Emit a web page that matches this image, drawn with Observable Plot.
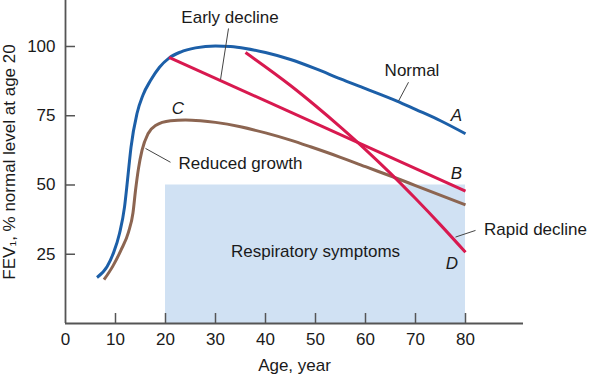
<!DOCTYPE html>
<html>
<head>
<meta charset="utf-8">
<script src="https://cdn.jsdelivr.net/npm/d3@7"></script>
<script src="https://cdn.jsdelivr.net/npm/@observablehq/plot@0.6"></script>
<style>
  html, body { margin: 0; padding: 0; background: #fff; }
  #chart svg { display: block; }
</style>
</head>
<body>
<div id="chart"></div>
<script>
// ---- data ----
const normalAge = [6.3, 8.3, 9.6, 10.8, 11.8, 12.3, 12.7, 13.1, 14.3, 15.5, 17, 18.8, 20.7, 23, 26, 30, 33, 36, 40, 45, 50, 55, 60, 66.3, 70, 75, 80];
const normalFev = [16.6, 20.5, 25.5, 32.5, 42, 50, 57, 63.6, 75.8, 82.5, 87.7, 92.5, 95.8, 98, 99.5, 100.2, 100, 99.3, 97.8, 95.3, 92, 88.3, 84.8, 80.3, 77.3, 73.2, 68.5];

const reducedAge = [7.7, 9.5, 11.1, 12.6, 13.5, 14, 14.6, 15.3, 16.5, 18, 21, 24, 27, 30, 35, 40, 45, 49, 55, 60, 65.7, 70, 80];
const reducedFev = [15.8, 20.8, 26.5, 33, 40, 48, 56, 62.5, 68.5, 71.5, 73.2, 73.5, 73.2, 72.6, 71, 68.8, 66.2, 63.8, 60, 56.6, 52.8, 49.8, 42.8];

const earlyAge = [20.7, 80];
const earlyFev = [96.1, 47.8];

const rapidAge = [36, 45, 50, 55, 60, 65, 70, 75, 80];
const rapidFev = [97.8, 85.9, 78.6, 70.9, 62.8, 54.2, 45.1, 35.6, 25.7];

const symptomAges = [20, 80];
const symptomThreshold = 50;

const xTicks = [0, 10, 20, 30, 40, 50, 60, 70, 80];
const yTicks = [25, 50, 75, 100];

const labelText = ["Early decline", "Normal", "Reduced growth", "Rapid decline", "Respiratory symptoms"];
const labelAge = [32.9, 69.3, 35, 94, 50];
const labelFev = [110.5, 91.3, 57.7, 33.8, 25.8];

const letterText = ["A", "B", "C", "D"];
const letterAge = [78.2, 78.2, 22.5, 77.3];
const letterFev = [75.1, 54, 77.7, 21.5];

const leaderAgeFrom = [32.6, 68.6, 21, 82];
const leaderFevFrom = [106.5, 87.1, 58.2, 33.6];
const leaderAgeTo = [31, 66.6, 16, 78];
const leaderFevTo = [88, 80.3, 63.2, 31.2];

const xTitle = "Age, year";
const yTitle = "FEV\u2081, % normal level at age 20";

// ---- build tables ----
const zip = (a, b) => a.map((v, i) => ({age: v, fev: b[i]}));
const normal = zip(normalAge, normalFev);
const reduced = zip(reducedAge, reducedFev);
const early = zip(earlyAge, earlyFev);
const rapid = zip(rapidAge, rapidFev);
const labels = labelText.map((t, i) => ({t, age: labelAge[i], fev: labelFev[i]}));
const letters = letterText.map((t, i) => ({t, age: letterAge[i], fev: letterFev[i]}));
const leaders = leaderAgeFrom.map((v, i) => ({a1: v, f1: leaderFevFrom[i], a2: leaderAgeTo[i], f2: leaderFevTo[i]}));
const band = [{from: symptomAges[0], to: symptomAges[1], top: symptomThreshold, bottom: 0}];

const blue = "#1c5fa8";
const red = "#d8194f";
const brown = "#8c6551";
const axisColor = "#555";

const chart = Plot.plot({
  width: 589,
  height: 377,
  marginLeft: 65,
  marginRight: 66,
  marginTop: 0,
  marginBottom: 54,
  x: {domain: [0, 91.6]},
  y: {domain: [0, 116.6]},
  style: {fontFamily: "'Liberation Sans', Arial, Helvetica, sans-serif", fontSize: "17px", color: "#1a1a1a", background: "#fff"},
  marks: [
    Plot.rect(band, {x1: "from", x2: "to", y1: "bottom", y2: "top", fill: "#d0e1f3"}),
    // axes lines
    Plot.ruleY([0], {stroke: axisColor, strokeWidth: 1.8}),
    Plot.ruleX([0], {stroke: axisColor, strokeWidth: 1.8}),
    // inward tick marks
    Plot.ruleX(xTicks.filter(d => d > 0), {x: d => d, y1: () => 0, y2: () => 0, insetTop: -10, stroke: axisColor, strokeWidth: 1.5}),
    Plot.ruleY(yTicks, {y: d => d, x1: () => 0, x2: () => 0, insetRight: -10, stroke: axisColor, strokeWidth: 1.5}),
    Plot.axisX({ticks: xTicks, tickSize: 0, tickPadding: 9, fontSize: 17, label: null}),
    Plot.axisY({ticks: yTicks, tickSize: 0, tickPadding: 10, fontSize: 17, label: null}),
    Plot.text([xTitle], {frameAnchor: "bottom", dy: 42, text: d => d, fontSize: 17, textAnchor: "middle", lineAnchor: "middle"}),
    Plot.text([yTitle], {frameAnchor: "left", dx: -56, rotate: -90, text: d => d, fontSize: 17, textAnchor: "middle", lineAnchor: "middle"}),
    // curves
    Plot.line(reduced, {x: "age", y: "fev", stroke: brown, strokeWidth: 3, curve: "monotone-x", strokeLinecap: "butt"}),
    Plot.line(normal, {x: "age", y: "fev", stroke: blue, strokeWidth: 3, curve: "monotone-x", strokeLinecap: "butt"}),
    Plot.line(early, {x: "age", y: "fev", stroke: red, strokeWidth: 3, strokeLinecap: "butt"}),
    Plot.line(rapid, {x: "age", y: "fev", stroke: red, strokeWidth: 3, curve: "monotone-x", strokeLinecap: "butt"}),
    // leaders and annotations
    Plot.link(leaders, {x1: "a1", y1: "f1", x2: "a2", y2: "f2", stroke: "#444", strokeWidth: 1}),
    Plot.text(labels, {x: "age", y: "fev", text: "t", fontSize: 17, fill: "#1a1a1a"}),
    Plot.text(letters, {x: "age", y: "fev", text: "t", fontSize: 17, fontStyle: "italic", fill: "#1a1a1a"})
  ]
});
document.getElementById("chart").appendChild(chart);
</script>
</body>
</html>
